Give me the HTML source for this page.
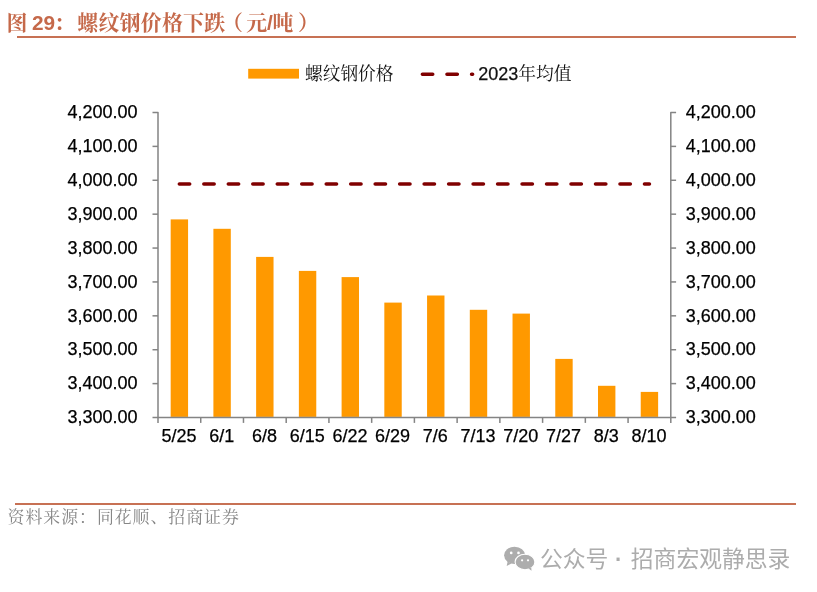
<!DOCTYPE html>
<html lang="zh-CN">
<head>
<meta charset="utf-8">
<title>图 29：螺纹钢价格下跌（元/吨）</title>
<style>
html,body{margin:0;padding:0;background:#fff;}
body{width:817px;height:592px;overflow:hidden;position:relative;}
svg{display:block;position:absolute;left:0;top:0;}
.lat{font-family:"Liberation Sans",sans-serif;}
.song{font-family:"Liberation Sans","Noto Serif CJK SC",serif;}
.kai{font-family:"Liberation Sans","Noto Serif CJK SC",serif;}
.hei{font-family:"Liberation Sans","Noto Sans CJK SC",sans-serif;}
</style>
</head>
<body>
<svg width="817" height="592" viewBox="0 0 817 592">
<rect x="0" y="0" width="817" height="592" fill="#ffffff"/>

<g class="kai" font-size="20.9" font-weight="bold" fill="#c5694a">
<text x="6.6" y="30">图</text>
<text x="32" y="30.1" class="lat" font-size="20.8">29</text>
<text x="54" y="30">：</text>
<text x="77.2" y="30" textLength="148" lengthAdjust="spacing">螺纹钢价格下跌</text>
<text x="222" y="30">（</text>
<text x="246.2" y="30">元</text>
<text x="267" y="30" class="lat">/</text>
<text x="272.6" y="30">吨</text>
<text x="298" y="30">）</text>
</g>
<rect x="17" y="36" width="779" height="2" fill="#c77154"/>
<rect x="15" y="503" width="781" height="2" fill="#c77154"/>
<rect x="248.2" y="68.8" width="50.8" height="9.8" fill="#ff9900"/>
<text x="305" y="80.4" class="song" font-size="17.7" fill="#111">螺纹钢价格</text>
<line x1="422.4" y1="74.2" x2="472.6" y2="74.2" stroke="#800000" stroke-width="3.6" stroke-linecap="round" stroke-dasharray="10.3 14.3"/>
<text x="478.2" y="80" class="song" font-size="17.8" fill="#111"><tspan class="lat" font-size="18" stroke="#111" stroke-width="0.25">2023</tspan><tspan dy="0.4">年均值</tspan></text>
<g fill="#ff9900">
<rect x="170.67" y="219.40" width="17.40" height="197.50"/>
<rect x="213.40" y="228.80" width="17.40" height="188.10"/>
<rect x="256.13" y="256.90" width="17.40" height="160.00"/>
<rect x="298.87" y="270.90" width="17.40" height="146.00"/>
<rect x="341.60" y="277.10" width="17.40" height="139.80"/>
<rect x="384.33" y="302.60" width="17.40" height="114.30"/>
<rect x="427.07" y="295.50" width="17.40" height="121.40"/>
<rect x="469.80" y="309.80" width="17.40" height="107.10"/>
<rect x="512.53" y="313.60" width="17.40" height="103.30"/>
<rect x="555.27" y="358.90" width="17.40" height="58.00"/>
<rect x="598.00" y="385.80" width="17.40" height="31.10"/>
<rect x="640.73" y="391.90" width="17.40" height="25.00"/>
</g>
<g stroke="#848484" stroke-width="1.5" fill="none">
<path stroke-linejoin="round" d="M152.50 112.50 L158.00 112.50 L158.00 422.90"/>
<path stroke-linejoin="round" d="M676.10 112.50 L670.80 112.50 L670.80 422.90"/>
<line x1="152.50" y1="417.50" x2="676.10" y2="417.50"/>
<line x1="152.50" y1="146.39" x2="158.00" y2="146.39"/>
<line x1="670.80" y1="146.39" x2="676.10" y2="146.39"/>
<line x1="152.50" y1="180.28" x2="158.00" y2="180.28"/>
<line x1="670.80" y1="180.28" x2="676.10" y2="180.28"/>
<line x1="152.50" y1="214.17" x2="158.00" y2="214.17"/>
<line x1="670.80" y1="214.17" x2="676.10" y2="214.17"/>
<line x1="152.50" y1="248.06" x2="158.00" y2="248.06"/>
<line x1="670.80" y1="248.06" x2="676.10" y2="248.06"/>
<line x1="152.50" y1="281.94" x2="158.00" y2="281.94"/>
<line x1="670.80" y1="281.94" x2="676.10" y2="281.94"/>
<line x1="152.50" y1="315.83" x2="158.00" y2="315.83"/>
<line x1="670.80" y1="315.83" x2="676.10" y2="315.83"/>
<line x1="152.50" y1="349.72" x2="158.00" y2="349.72"/>
<line x1="670.80" y1="349.72" x2="676.10" y2="349.72"/>
<line x1="152.50" y1="383.61" x2="158.00" y2="383.61"/>
<line x1="670.80" y1="383.61" x2="676.10" y2="383.61"/>
<line x1="200.73" y1="417.50" x2="200.73" y2="422.90"/>
<line x1="243.47" y1="417.50" x2="243.47" y2="422.90"/>
<line x1="286.20" y1="417.50" x2="286.20" y2="422.90"/>
<line x1="328.93" y1="417.50" x2="328.93" y2="422.90"/>
<line x1="371.67" y1="417.50" x2="371.67" y2="422.90"/>
<line x1="414.40" y1="417.50" x2="414.40" y2="422.90"/>
<line x1="457.13" y1="417.50" x2="457.13" y2="422.90"/>
<line x1="499.87" y1="417.50" x2="499.87" y2="422.90"/>
<line x1="542.60" y1="417.50" x2="542.60" y2="422.90"/>
<line x1="585.33" y1="417.50" x2="585.33" y2="422.90"/>
<line x1="628.07" y1="417.50" x2="628.07" y2="422.90"/>
</g>
<line x1="179.37" y1="183.95" x2="649.43" y2="183.95" stroke="#800000" stroke-width="3.6" stroke-linecap="round" stroke-dasharray="10.3 14.18"/>
<g class="lat" font-size="18" fill="#000" stroke="#000" stroke-width="0.25">
<text x="137.5" y="118.20" text-anchor="end">4,200.00</text>
<text x="685.8" y="118.20">4,200.00</text>
<text x="137.5" y="152.09" text-anchor="end">4,100.00</text>
<text x="685.8" y="152.09">4,100.00</text>
<text x="137.5" y="185.98" text-anchor="end">4,000.00</text>
<text x="685.8" y="185.98">4,000.00</text>
<text x="137.5" y="219.87" text-anchor="end">3,900.00</text>
<text x="685.8" y="219.87">3,900.00</text>
<text x="137.5" y="253.76" text-anchor="end">3,800.00</text>
<text x="685.8" y="253.76">3,800.00</text>
<text x="137.5" y="287.64" text-anchor="end">3,700.00</text>
<text x="685.8" y="287.64">3,700.00</text>
<text x="137.5" y="321.53" text-anchor="end">3,600.00</text>
<text x="685.8" y="321.53">3,600.00</text>
<text x="137.5" y="355.42" text-anchor="end">3,500.00</text>
<text x="685.8" y="355.42">3,500.00</text>
<text x="137.5" y="389.31" text-anchor="end">3,400.00</text>
<text x="685.8" y="389.31">3,400.00</text>
<text x="137.5" y="423.20" text-anchor="end">3,300.00</text>
<text x="685.8" y="423.20">3,300.00</text>
<text x="178.97" y="441.9" text-anchor="middle">5/25</text>
<text x="221.70" y="441.9" text-anchor="middle">6/1</text>
<text x="264.43" y="441.9" text-anchor="middle">6/8</text>
<text x="307.17" y="441.9" text-anchor="middle">6/15</text>
<text x="349.90" y="441.9" text-anchor="middle">6/22</text>
<text x="392.63" y="441.9" text-anchor="middle">6/29</text>
<text x="435.37" y="441.9" text-anchor="middle">7/6</text>
<text x="478.10" y="441.9" text-anchor="middle">7/13</text>
<text x="520.83" y="441.9" text-anchor="middle">7/20</text>
<text x="563.57" y="441.9" text-anchor="middle">7/27</text>
<text x="606.30" y="441.9" text-anchor="middle">8/3</text>
<text x="649.03" y="441.9" text-anchor="middle">8/10</text>
</g>
<text x="7.6" y="522.6" class="kai" font-size="16.9" letter-spacing="0.97" fill="#868686">资料来源：同花顺、招商证券</text>
<g fill="#adadad">
<ellipse cx="514.6" cy="555.3" rx="10.5" ry="8.6"/>
<path d="M507.6 561.5 L506.7 565.9 L511.6 563.4z"/>
<ellipse cx="525" cy="562" rx="9.9" ry="7.7" stroke="#ffffff" stroke-width="1.1"/>
<path d="M528.5 568.6 L531.5 570.7 L531.2 567.2z"/>
</g>
<g fill="#ffffff"><circle cx="511.2" cy="552.9" r="1.35"/><circle cx="518.5" cy="552.9" r="1.35"/><circle cx="522.1" cy="560.3" r="1.1"/><circle cx="528" cy="560.3" r="1.1"/></g>
<g class="hei" font-size="22.8" fill="#acacac">
<text x="540" y="567.3">公众号</text>
<text x="612.8" y="568.3" font-size="32">·</text>
<text x="630.8" y="567.3">招商宏观静思录</text>
</g>
</svg>
</body>
</html>
